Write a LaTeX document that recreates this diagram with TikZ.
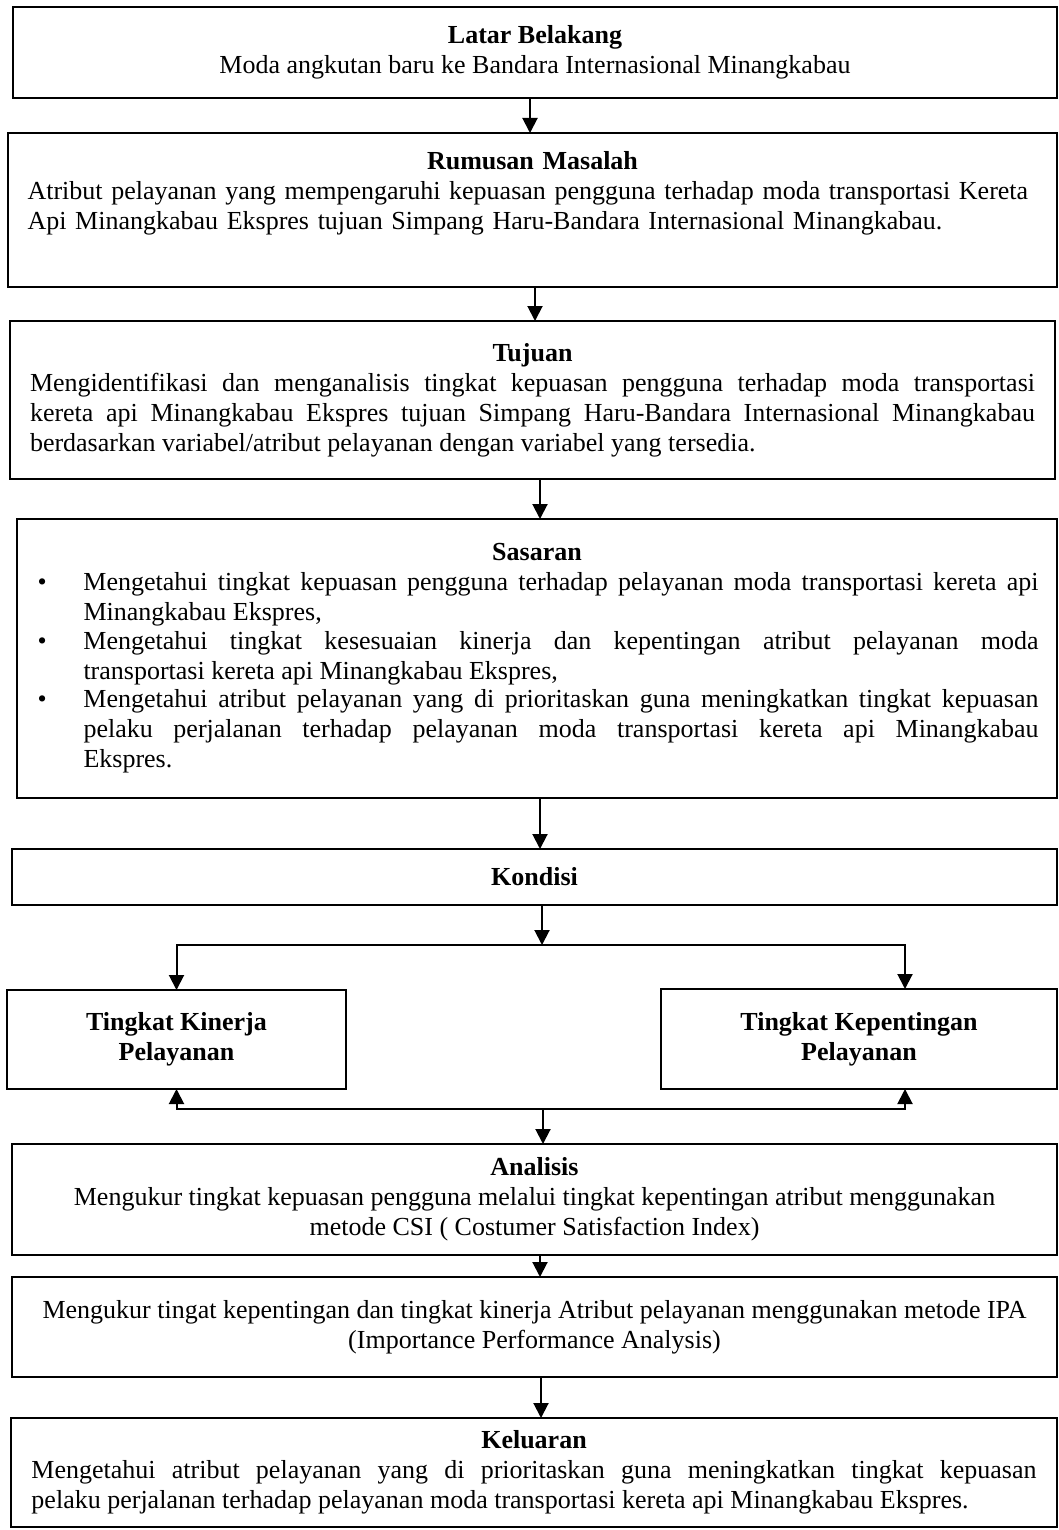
\documentclass[tikz,border=0pt]{standalone}
\usepackage{fontspec}
\setmainfont{Liberation Serif}
\usetikzlibrary{arrows.meta,positioning}
\newcommand{\butir}[1]{\par\noindent\makebox[24pt][l]{\hspace{1pt}\textbullet}\parbox[t]{477.5pt}{#1}\par\vspace{1.5pt}}

\begin{document}
\begin{tikzpicture}
  [x=0.5pt,y=-0.5pt,
   every node/.style={font=\fontsize{13}{15}\selectfont,inner sep=0pt,outer sep=0pt},
   kotak/.style={draw,line width=1pt},
   panah/.style={line width=1pt,-{Triangle[length=7.5pt,width=7.5pt]}}]

  \useasboundingbox (0,0) rectangle (1059,1530);

  \node[kotak,minimum width=522pt,minimum height=45.5pt,align=center] (lb) at (535,52.5)
    {\textbf{Latar Belakang}\\Moda angkutan baru ke Bandara Internasional Minangkabau};

  \node[kotak,minimum width=524.5pt,minimum height=77pt] (rm) at (532.5,210) {};
  \node[text width=505pt,align=left,below=9pt of rm.north] (rmt)
    {{\centering\textbf{Rumusan Masalah}\par}
     Atribut pelayanan yang mempengaruhi kepuasan pengguna terhadap moda transportasi Kereta\\
     Api Minangkabau Ekspres tujuan Simpang Haru-Bandara Internasional Minangkabau.};

  \node[kotak,minimum width=522.5pt,minimum height=79pt,text width=502.5pt,align=justify] (tj) at (532.5,400)
    {{\centering\textbf{Tujuan}\par}
     Mengidentifikasi dan menganalisis tingkat kepuasan pengguna terhadap moda transportasi\linebreak
     kereta api Minangkabau Ekspres tujuan Simpang Haru-Bandara Internasional Minangkabau\linebreak
     berdasarkan variabel/atribut pelayanan dengan variabel yang tersedia.};

  \node[kotak,minimum width=520pt,minimum height=139.5pt,text width=501.5pt,align=justify] (ss) at (537,658.5)
    {{\centering\textbf{Sasaran}\par}
     \butir{Mengetahui tingkat kepuasan pengguna terhadap pelayanan moda transportasi kereta api\linebreak
       Minangkabau Ekspres,}
     \butir{Mengetahui tingkat kesesuaian kinerja dan kepentingan atribut pelayanan moda\linebreak
       transportasi kereta api Minangkabau Ekspres,}
     \butir{Mengetahui atribut pelayanan yang di prioritaskan guna meningkatkan tingkat kepuasan\linebreak
       pelaku perjalanan terhadap pelayanan moda transportasi kereta api Minangkabau\linebreak
       Ekspres.}};

  \node[kotak,minimum width=522.5pt,minimum height=28pt,font=\fontsize{13}{15}\selectfont\bfseries] (kd) at (534.5,877) {Kondisi};

  \node[kotak,minimum width=169.5pt,minimum height=49.5pt,align=center,font=\fontsize{13}{15}\selectfont\bfseries] (kin) at (176.5,1039.5)
    {Tingkat Kinerja\\Pelayanan};
  \node[kotak,minimum width=198pt,minimum height=50pt,align=center,font=\fontsize{13}{15}\selectfont\bfseries] (kep) at (859,1039)
    {Tingkat Kepentingan\\Pelayanan};

  \node[kotak,minimum width=522.5pt,minimum height=55.5pt,align=center] (an) at (534.5,1199.5)
    {\textbf{Analisis}\\
     Mengukur tingkat kepuasan pengguna melalui tingkat kepentingan atribut menggunakan\\
     metode CSI ( Costumer Satisfaction Index)};

  \node[kotak,minimum width=522.5pt,minimum height=50pt,align=center] (ipa) at (534.5,1327)
    {Mengukur tingat kepentingan dan tingkat kinerja Atribut pelayanan menggunakan metode IPA\\
     (Importance Performance Analysis)};

  \node[kotak,minimum width=523pt,minimum height=54.5pt,text width=502.5pt,align=justify] (kl) at (534,1472.5)
    {{\centering\textbf{Keluaran}\par}
     Mengetahui atribut pelayanan yang di prioritaskan guna meningkatkan tingkat kepuasan\linebreak
     pelaku perjalanan terhadap pelayanan moda transportasi kereta api Minangkabau Ekspres.};

  % alur utama
  \foreach \from/\to/\dx in {lb/rm/-2.5pt,rm/tj/1.25pt,tj/ss/3.75pt,ss/kd/1.5pt,an/ipa/2.75pt,ipa/kl/3.25pt}
    \draw[panah] ([xshift=\dx]\from.south) -- ([xshift=\dx]\from.south |- \to.north);

  % cabang kondisi
  \coordinate (splt) at (542,945);
  \coordinate (jn) at (543,1109);
  \draw[panah] (kd.south -| splt) -- (splt);
  \draw[panah] (splt) -| (kin.north);
  \draw[panah] (splt) -| ([xshift=23pt]kep.north);
  \draw[panah] (jn) -| (kin.south);
  \draw[panah] (jn) -| ([xshift=23pt]kep.south);
  \draw[panah] (jn) -- (jn |- an.north);
\end{tikzpicture}
\end{document}
